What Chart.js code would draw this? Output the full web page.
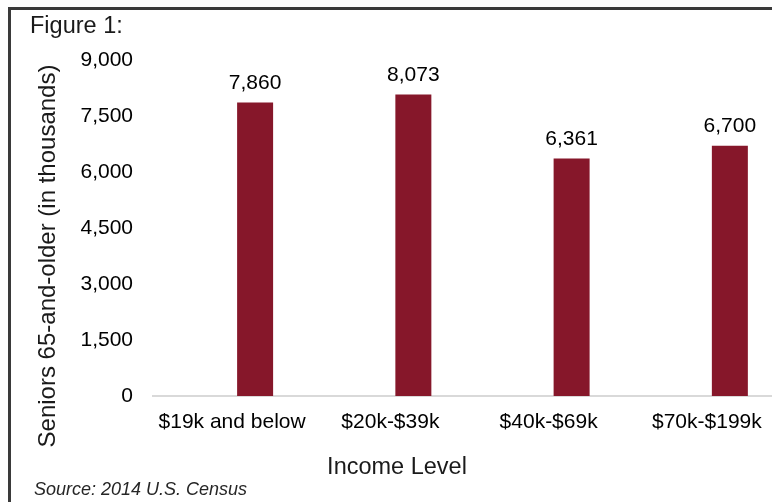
<!DOCTYPE html>
<html>
<head>
<meta charset="utf-8">
<script src="https://cdn.jsdelivr.net/npm/chart.js@4"></script>
<style>
  html, body { margin: 0; padding: 0; background: #fff; overflow: hidden; width: 772px; height: 502px; }
  #c { position: absolute; left: 0; top: 0; }
</style>
</head>
<body>
<canvas id="c" width="800" height="502"></canvas>
<script>
const categories = ['$19k and below', '$20k-$39k', '$40k-$69k', '$70k-$199k'];
const seniors = [7860, 8073, 6361, 6700];
const yTickValues = [0, 1500, 3000, 4500, 6000, 7500, 9000];
const figureTitle = 'Figure 1:';
const yTitle = 'Seniors 65-and-older (in thousands)';
const xTitle = 'Income Level';
const sourceNote = 'Source: 2014 U.S. Census';

const FONT = "'Liberation Sans', Arial, sans-serif";
const fmt = v => Number(v).toLocaleString('en-US');

const decor = {
  id: 'decor',
  afterDraw(chart) {
    const ctx = chart.ctx;
    ctx.save();
    // frame (top and left)
    ctx.strokeStyle = '#3a3a3a';
    ctx.lineWidth = 3;
    ctx.beginPath();
    ctx.moveTo(9.5, 502);
    ctx.lineTo(9.5, 8.5);
    ctx.lineTo(800, 8.5);
    ctx.stroke();

    ctx.fillStyle = '#1a1a1a';
    ctx.textAlign = 'left';
    ctx.textBaseline = 'alphabetic';
    ctx.font = '23.5px ' + FONT;
    ctx.fillText(figureTitle, 30, 33);

    ctx.font = 'italic 18px ' + FONT;
    ctx.fillStyle = '#262626';
    ctx.fillText(sourceNote, 34, 495);

    ctx.fillStyle = '#1a1a1a';
    ctx.font = '23.5px ' + FONT;
    ctx.textAlign = 'center';
    ctx.fillText(xTitle, 397, 474);

    ctx.save();
    ctx.translate(55, 256);
    ctx.rotate(-Math.PI / 2);
    ctx.font = '24px ' + FONT;
    ctx.fillText(yTitle, 0, 0);
    ctx.restore();

    // data labels
    const meta = chart.getDatasetMeta(1);
    ctx.fillStyle = '#000';
    ctx.font = '21px ' + FONT;
    ctx.textAlign = 'center';
    meta.data.forEach((el, i) => {
      ctx.fillText(fmt(seniors[i]), el.x, el.y - 14);
    });
    ctx.restore();
  }
};

new Chart(document.getElementById('c'), {
  type: 'bar',
  data: {
    labels: categories,
    datasets: [
      { label: '', data: categories.map(() => null), backgroundColor: 'rgba(0,0,0,0)' },
      { label: 'Seniors', data: seniors, backgroundColor: '#86172a', borderWidth: 0 }
    ]
  },
  options: {
    responsive: false,
    devicePixelRatio: 1,
    animation: false,
    categoryPercentage: 0.581,
    barPercentage: 0.783,
    layout: { padding: { left: 0, right: 14, top: 60, bottom: 0 } },
    plugins: { legend: { display: false }, tooltip: { enabled: false }, title: { display: false } },
    scales: {
      x: {
        grid: { display: false, drawTicks: false },
        border: { display: true, color: '#d9d9d9', width: 2 },
        ticks: { color: '#000', font: { size: 21, family: FONT }, padding: 14, autoSkip: false, maxRotation: 0 },
        afterFit(s) { s.height = 106; }
      },
      y: {
        min: 0,
        max: 9000,
        grid: { display: false, drawTicks: false },
        border: { display: false },
        afterBuildTicks(s) { s.ticks = yTickValues.map(v => ({ value: v })); },
        ticks: { color: '#000', font: { size: 21, family: FONT }, padding: 20, callback: v => fmt(v) },
        afterFit(s) { s.width = 153; }
      }
    }
  },
  plugins: [decor]
});
</script>
</body>
</html>
